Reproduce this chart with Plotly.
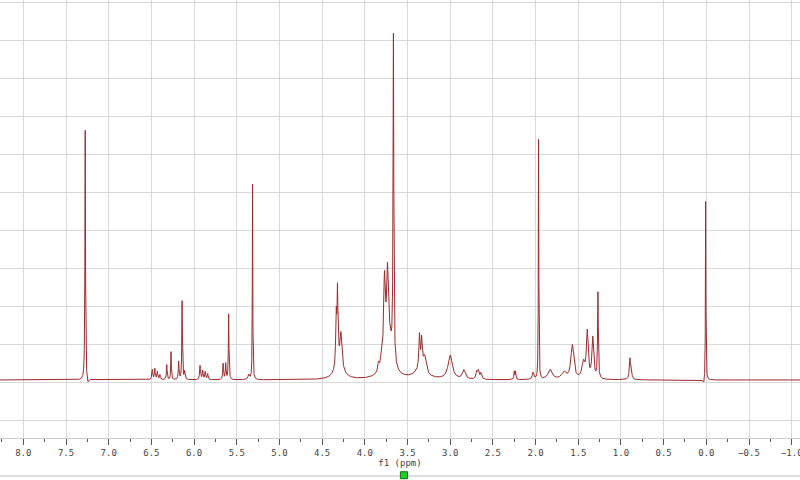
import numpy as np
import plotly.graph_objects as go

# Peak list: position (ppm), height (px above baseline), half-width (ppm)
peak_ppm = [7.275, 7.247,
            6.49, 6.46, 6.43, 6.40, 6.32, 6.27, 6.18, 6.14, 6.11,
            5.93, 5.90, 5.87, 5.84, 5.66, 5.63, 5.595, 5.36, 5.315,
            4.335, 4.32, 4.28, 4.30,
            3.84, 3.81, 3.77, 3.735, 3.665, 3.72,
            3.36, 3.335, 3.30, 3.35,
            3.00, 2.84, 2.69, 2.67, 2.64, 2.25, 2.235, 2.03, 1.965,
            1.83, 1.67, 1.57, 1.44, 1.395, 1.33, 1.27, 0.895, 0.88,
            0.03, 0.008]
peak_height = [252, -6,
               10, 11, 8, 5, 15, 28, 18, 79, 8,
               14, 9, 8, 6, 16, 16, 66, 5, 196,
               50, 70, 30, 18,
               8, 7, 80, 70, 325, 40,
               33, 28, 16, 9,
               24, 9, 7, 8, 6, 8, 8, 7, 242,
               10, 7, 34, 16, 46, 41, 86, 20, 9,
               -5, 180]
peak_width = [0.004, 0.012,
              0.006, 0.006, 0.006, 0.006, 0.005, 0.004, 0.005, 0.004, 0.006,
              0.006, 0.006, 0.006, 0.006, 0.005, 0.005, 0.004, 0.01, 0.003,
              0.007, 0.006, 0.012, 0.05,
              0.01, 0.01, 0.012, 0.012, 0.005, 0.05,
              0.008, 0.008, 0.02, 0.08,
              0.03, 0.02, 0.01, 0.01, 0.01, 0.005, 0.005, 0.01, 0.003,
              0.03, 0.03, 0.02, 0.02, 0.012, 0.012, 0.005, 0.008, 0.008,
              0.012, 0.003]

x_tick_vals = [8.0, 7.5, 7.0, 6.5, 6.0, 5.5, 5.0, 4.5, 4.0, 3.5, 3.0, 2.5,
               2.0, 1.5, 1.0, 0.5, 0.0, -0.5, -1.0]
x_tick_text = ["8.0", "7.5", "7.0", "6.5", "6.0", "5.5", "5.0", "4.5", "4.0", "3.5",
               "3.0", "2.5", "2.0", "1.5", "1.0", "0.5", "0.0", "\u22120.5", "\u22121.0"]

ppm = np.linspace(8.3, -1.12, 12000)
intensity = np.zeros_like(ppm)
for c, h, w in zip(peak_ppm, peak_height, peak_width):
    intensity += h * w**2 / ((ppm - c)**2 + w**2)

fig = go.Figure()
fig.add_trace(go.Scatter(
    x=ppm, y=intensity, mode='lines',
    line=dict(color='#9c2a2c', width=1),
    hoverinfo='skip', showlegend=False
))

grid = '#d9d9d9'
fig.update_layout(
    width=800, height=480,
    margin=dict(l=0, r=0, t=0, b=42, autoexpand=False),
    plot_bgcolor='white', paper_bgcolor='white',
    xaxis=dict(
        range=[8.273, -1.097],
        automargin=False,
        tickvals=x_tick_vals, ticktext=x_tick_text,
        ticklabeloverflow='allow',
        showgrid=True, gridcolor=grid, gridwidth=1,
        zeroline=False,
        showline=True, linecolor='#cccccc', linewidth=1,
        ticks='outside', ticklen=6, tickcolor='#555555',
        minor=dict(dtick=0.25, tick0=0, ticks='outside', ticklen=3,
                   tickcolor='#555555', showgrid=False),
        tickfont=dict(family='DejaVu Sans Mono', size=9, color='#444444'),
        title=dict(text='f1 (ppm)', standoff=0,
                   font=dict(family='DejaVu Sans Mono', size=9, color='#444444')),
    ),
    yaxis=dict(
        range=[-58, 380],
        automargin=False,
        tick0=-2.3, dtick=38,
        showgrid=True, gridcolor=grid, gridwidth=1,
        showticklabels=False, zeroline=False, showline=False,
        fixedrange=True,
    ),
    shapes=[
        dict(type='line', xref='paper', yref='paper', x0=0, x1=1,
             y0=-0.0868, y1=-0.0868, line=dict(color='#dddddd', width=2)),
        dict(type='rect', xref='paper', yref='paper', x0=0.5005, x1=0.5095,
             y0=-0.093, y1=-0.077, fillcolor='#22cc22', line=dict(color='#117711', width=1)),
    ],
)

fig.write_html("out.html", config={'displayModeBar': False},
               post_script="document.body.style.margin='0';")
